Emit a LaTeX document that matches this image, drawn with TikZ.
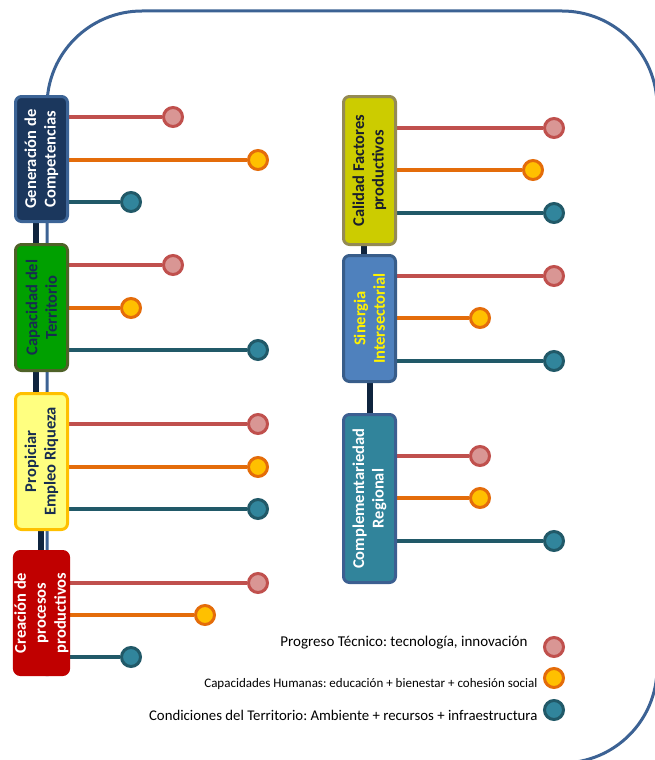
\documentclass[tikz,border=0pt]{standalone}
\usepackage{fontspec}
\setmainfont{Carlito}
\usetikzlibrary{backgrounds}
\frenchspacing
\definecolor{outl}{RGB}{60,98,148}
\definecolor{navy}{RGB}{15,36,62}
\definecolor{rline}{RGB}{192,80,77}
\definecolor{rfill}{RGB}{217,150,148}
\definecolor{oline}{RGB}{228,108,10}
\definecolor{ofill}{RGB}{255,192,0}
\definecolor{tline}{RGB}{33,89,104}
\definecolor{tfill}{RGB}{49,133,156}
\definecolor{genfill}{RGB}{27,55,93}
\definecolor{genbord}{RGB}{60,100,150}
\definecolor{capfill}{RGB}{0,160,0}
\definecolor{capbord}{RGB}{79,98,40}
\definecolor{txtnavy}{RGB}{23,45,80}
\definecolor{propfill}{RGB}{255,255,128}
\definecolor{propbord}{RGB}{255,192,0}
\definecolor{crefill}{RGB}{192,0,0}
\definecolor{calfill}{RGB}{204,204,0}
\definecolor{calbord}{RGB}{148,138,84}
\definecolor{calttxt}{RGB}{25,30,45}
\definecolor{sinfill}{RGB}{79,129,189}
\definecolor{sinbord}{RGB}{56,93,138}
\definecolor{comfill}{RGB}{49,132,155}
\definecolor{combord}{RGB}{60,95,145}
\begin{document}
\begin{tikzpicture}[x=1pt,y=-1pt,
  box/.style={rounded corners=6pt, line width=3pt, rotate=90, align=center,
    font=\fontsize{16.5}{19.5}\selectfont\bfseries, inner sep=0pt, minimum height=52pt},
  dot/.style={circle, line width=3pt, minimum size=19pt, inner sep=0pt},
  rdot/.style={dot, draw=rline, fill=rfill},
  odot/.style={dot, draw=oline, fill=ofill},
  tdot/.style={dot, draw=tline, fill=tfill},
  rbr/.style={line width=4pt, draw=rline},
  obr/.style={line width=4pt, draw=oline},
  tbr/.style={line width=4pt, draw=tline},
  conn/.style={line width=6pt, draw=navy},
  outline/.style={line width=3pt, draw=outl, rounded corners=95pt},
  legend/.style={anchor=base east, text=black}
]
\useasboundingbox (0,0) rectangle (655,760);
% left boxes
\node[box, fill=genfill, draw=genbord, text=white, minimum width=125pt] (gen) at (41.5,159) {Generación de\\Competencias};
\node[box, fill=capfill, draw=capbord, text=txtnavy, minimum width=126pt] (cap) at (41.5,307.5) {Capacidad del\\Territorio};
\node[box, fill=propfill, draw=propbord, text=txtnavy, minimum width=136pt] (prop) at (41.5,461.5) {Propiciar\\Empleo Riqueza};
\node[box, fill=crefill, draw=crefill, text=white, minimum width=123pt, font=\fontsize{16.5}{20}\selectfont\bfseries] (cre) at (41.5,613) {Creación de\\procesos\\productivos};
% right boxes
\node[box, fill=calfill, draw=calbord, text=calttxt, minimum width=148pt] (cal) at (369.5,170.5) {Calidad Factores\\productivos};
\node[box, fill=sinfill, draw=sinbord, text=yellow, minimum width=126pt] (sin) at (369.5,318.5) {Sinergia\\Intersectorial};
\node[box, fill=comfill, draw=combord, text=white, minimum width=168pt] (com) at (369.5,498.5) {Complementariedad\\Regional};
% dots left
\node[rdot] (g1) at (173,117) {};
\node[odot] (g2) at (258,160) {};
\node[tdot] (g3) at (131,202) {};
\node[rdot] (c1) at (173,265) {};
\node[odot] (c2) at (131,308) {};
\node[tdot] (c3) at (258,350) {};
\node[rdot] (p1) at (258,424) {};
\node[odot] (p2) at (258,467) {};
\node[tdot] (p3) at (258,509) {};
\node[rdot] (k1) at (258,583) {};
\node[odot] (k2) at (205,615) {};
\node[tdot] (k3) at (131,657) {};
% dots right
\node[rdot] (q1) at (554,128) {};
\node[odot] (q2) at (533,170) {};
\node[tdot] (q3) at (554,213) {};
\node[rdot] (s1) at (554,276) {};
\node[odot] (s2) at (480,318) {};
\node[tdot] (s3) at (554,361) {};
\node[rdot] (m1) at (480,456) {};
\node[odot] (m2) at (480,498) {};
\node[tdot] (m3) at (554,541) {};
% legend
\node[rdot] (l1) at (554,647) {};
\node[odot] (l2) at (554,678) {};
\node[tdot] (l3) at (554,710) {};
\node[legend, font=\fontsize{15}{17}\selectfont] (lt1) at (531,646) {Progreso Técnico: tecnología, innovación};
\node[legend, font=\fontsize{13}{15}\selectfont] (lt2) at (541,687) {Capacidades Humanas: educación + bienestar + cohesión social};
\node[legend, font=\fontsize{14.8}{17}\selectfont] (lt3) at (541,720) {Condiciones del Territorio: Ambiente + recursos + infraestructura};
\begin{scope}[on background layer]
  \begin{scope}
    \clip (0,0) rectangle (655,760);
    \draw[outline] (47,676) -- (47,11) -- (657,11) -- (657,763) -- (300,763);
  \end{scope}
  \draw[conn] ([xshift=-5.5pt]gen.west) -- ([xshift=-5.5pt]cap.east);
  \draw[conn] ([xshift=-5.5pt]cap.west) -- ([xshift=-5.5pt]prop.east);
  \draw[conn] ([xshift=-0.5pt]prop.west) -- ([xshift=-0.5pt]cre.east);
  \draw[conn] ([xshift=-5.5pt]cal.west) -- ([xshift=-5.5pt]sin.east);
  \draw[conn] (sin.west) -- (com.east);
  \foreach \b/\n in {gen/g,cap/c,prop/p,cre/k,cal/q,sin/s,com/m}{
    \draw[rbr] (\b.south |- \n1) -- (\n1);
    \draw[obr] (\b.south |- \n2) -- (\n2);
    \draw[tbr] (\b.south |- \n3) -- (\n3);
  }
\end{scope}
\end{tikzpicture}
\end{document}
